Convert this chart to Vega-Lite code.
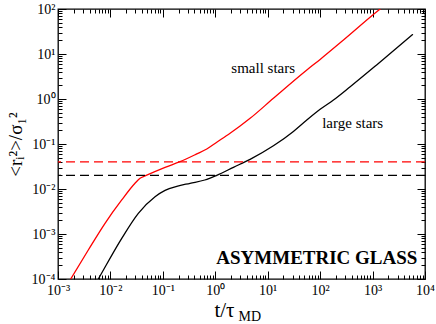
{
  "$schema": "https://vega.github.io/schema/vega-lite/v6.json",
  "width": 367,
  "height": 270,
  "autosize": {"type": "none"},
  "padding": {"left": 58, "top": 9, "right": 11, "bottom": 45},
  "background": "white",
  "config": {
    "view": {"stroke": "#000000", "strokeWidth": 1.3},
    "font": "Liberation Serif, serif",
    "axis": {
      "grid": false,
      "domain": false,
      "tickColor": "#000000",
      "tickWidth": 1,
      "labelColor": "#000000",
      "titleColor": "#000000",
      "labelFont": "Liberation Serif, serif",
      "titleFont": "Liberation Serif, serif",
      "labelFontSize": 14,
      "titleFontWeight": "normal",
      "labelOverlap": false,
      "labelFlush": false
    }
  },
  "datasets": {
    "curves": [
      {"series": "small stars", "t": 0.001413, "msd": 0.0000661},
      {"series": "small stars", "t": 0.001746, "msd": 0.0001},
      {"series": "small stars", "t": 0.003784, "msd": 0.0004406},
      {"series": "small stars", "t": 0.007889, "msd": 0.00173},
      {"series": "small stars", "t": 0.01644, "msd": 0.005702},
      {"series": "small stars", "t": 0.02944, "msd": 0.0134},
      {"series": "small stars", "t": 0.03673, "msd": 0.01726},
      {"series": "small stars", "t": 0.04571, "msd": 0.0195},
      {"series": "small stars", "t": 0.1102, "msd": 0.03034},
      {"series": "small stars", "t": 0.2128, "msd": 0.04046},
      {"series": "small stars", "t": 0.4436, "msd": 0.06026},
      {"series": "small stars", "t": 0.6887, "msd": 0.07762},
      {"series": "small stars", "t": 1.067, "msd": 0.1096},
      {"series": "small stars", "t": 1.914, "msd": 0.1738},
      {"series": "small stars", "t": 2.972, "msd": 0.2512},
      {"series": "small stars", "t": 4.613, "msd": 0.3715},
      {"series": "small stars", "t": 12.85, "msd": 1.038},
      {"series": "small stars", "t": 55.72, "msd": 4.406},
      {"series": "small stars", "t": 100, "msd": 7.586},
      {"series": "small stars", "t": 278.6, "msd": 20.46},
      {"series": "small stars", "t": 1396, "msd": 100},
      {"series": "small stars", "t": 1585, "msd": 112.2},
      {"series": "large stars", "t": 0.005012, "msd": 0.0000724},
      {"series": "large stars", "t": 0.005875, "msd": 0.0001},
      {"series": "large stars", "t": 0.01644, "msd": 0.0008017},
      {"series": "large stars", "t": 0.03404, "msd": 0.002884},
      {"series": "large stars", "t": 0.07096, "msd": 0.006745},
      {"series": "large stars", "t": 0.1102, "msd": 0.009333},
      {"series": "large stars", "t": 0.1841, "msd": 0.01148},
      {"series": "large stars", "t": 0.3304, "msd": 0.0134},
      {"series": "large stars", "t": 0.631, "msd": 0.01585},
      {"series": "large stars", "t": 1.067, "msd": 0.02018},
      {"series": "large stars", "t": 2.218, "msd": 0.03034},
      {"series": "large stars", "t": 4.613, "msd": 0.04571},
      {"series": "large stars", "t": 12.85, "msd": 0.0912},
      {"series": "large stars", "t": 30.9, "msd": 0.1905},
      {"series": "large stars", "t": 55.72, "msd": 0.3412},
      {"series": "large stars", "t": 100, "msd": 0.5902},
      {"series": "large stars", "t": 179.5, "msd": 0.9506},
      {"series": "large stars", "t": 374.1, "msd": 1.875},
      {"series": "large stars", "t": 1259, "msd": 6.026},
      {"series": "large stars", "t": 5875, "msd": 27.42}
    ],
    "labels": [
      {"t": 8.2, "msd": 4.9, "label": "small stars"},
      {"t": 417, "msd": 0.293, "label": "large stars"}
    ],
    "header": [
      {"t": 86.5, "msd": 0.000293, "label": "ASYMMETRIC GLASS"}
    ],
    "plateaus": [
      {"series": "small stars", "msd": 0.04},
      {"series": "large stars", "msd": 0.02}
    ]
  },
  "layer": [
    {
      "data": {"name": "curves"},
      "transform": [{"filter": "datum.series === 'small stars'"}],
      "mark": {"type": "line", "color": "#ff0000", "strokeWidth": 1.3, "clip": true, "interpolate": "monotone"},
      "encoding": {
        "x": {
          "field": "t", "type": "quantitative",
          "scale": {"type": "log", "domain": [0.001, 10000], "nice": false},
          "axis": {
            "orient": "bottom",
            "values": [0.001, 0.01, 0.1, 1, 10, 100, 1000, 10000],
            "tickSize": -8,
            "labelPadding": 12,
            "labelExpr": "'10' + replace(replace(replace(replace(replace(replace(replace('' + round(log(datum.value)/LN10), '-', '⁻'), '0', '⁰'), '1', '¹'), '2', '²'), '3', '³'), '4', '⁴'), '5', '⁵')",
            "title": "t/τ",
            "titleFontSize": 21,
            "titleX": 166,
            "titleY": 37,
            "titleAlign": "center",
            "titleBaseline": "alphabetic"
          }
        },
        "y": {
          "field": "msd", "type": "quantitative",
          "scale": {"type": "log", "domain": [0.0001, 100], "nice": false},
          "axis": {
            "orient": "left",
            "values": [0.0001, 0.001, 0.01, 0.1, 1, 10, 100],
            "tickSize": -8,
            "labelPadding": 11,
            "labelExpr": "'10' + replace(replace(replace(replace(replace(replace(replace('' + round(log(datum.value)/LN10), '-', '⁻'), '0', '⁰'), '1', '¹'), '2', '²'), '3', '³'), '4', '⁴'), '5', '⁵')",
            "title": "<rᵢ²>/σ₁²",
            "titleFontSize": 19,
            "titlePadding": 6
          }
        }
      }
    },
    {
      "data": {"name": "curves"},
      "transform": [{"filter": "datum.series === 'large stars'"}],
      "mark": {"type": "line", "color": "#000000", "strokeWidth": 1.3, "clip": true, "interpolate": "monotone"},
      "encoding": {
        "x": {
          "field": "t", "type": "quantitative",
          "scale": {"type": "log", "domain": [0.001, 10000], "nice": false},
          "axis": {
            "orient": "top",
            "values": [0.001, 0.01, 0.1, 1, 10, 100, 1000, 10000],
            "tickSize": -8,
            "labels": false,
            "title": null
          }
        },
        "y": {
          "field": "msd", "type": "quantitative",
          "scale": {"type": "log", "domain": [0.0001, 100], "nice": false},
          "axis": {
            "orient": "right",
            "values": [0.0001, 0.001, 0.01, 0.1, 1, 10, 100],
            "tickSize": -8,
            "labels": false,
            "title": null
          }
        }
      }
    },
    {
      "data": {"name": "labels"},
      "mark": {"type": "text", "font": "Liberation Serif, serif", "fontSize": 15, "color": "#000000", "align": "center", "baseline": "middle"},
      "encoding": {
        "text": {"field": "label"},
        "x": {
          "field": "t", "type": "quantitative",
          "scale": {"type": "log", "domain": [0.001, 10000], "nice": false},
          "axis": {
            "orient": "bottom",
            "values": [0.002, 0.003, 0.004, 0.005, 0.006, 0.007, 0.008, 0.009, 0.02, 0.03, 0.04, 0.05, 0.06, 0.07, 0.08, 0.09, 0.2, 0.3, 0.4, 0.5, 0.6, 0.7, 0.8, 0.9, 2, 3, 4, 5, 6, 7, 8, 9, 20, 30, 40, 50, 60, 70, 80, 90, 200, 300, 400, 500, 600, 700, 800, 900, 2000, 3000, 4000, 5000, 6000, 7000, 8000, 9000],
            "tickSize": -4,
            "labels": false,
            "title": "MD",
            "titleFontSize": 14,
            "titleX": 180,
            "titleY": 41,
            "titleAlign": "left",
            "titleBaseline": "alphabetic"
          }
        },
        "y": {
          "field": "msd", "type": "quantitative",
          "scale": {"type": "log", "domain": [0.0001, 100], "nice": false},
          "axis": {
            "orient": "left",
            "values": [0.0002, 0.0003, 0.0004, 0.0005, 0.0006, 0.0007, 0.0008, 0.0009, 0.002, 0.003, 0.004, 0.005, 0.006, 0.007, 0.008, 0.009, 0.02, 0.03, 0.04, 0.05, 0.06, 0.07, 0.08, 0.09, 0.2, 0.3, 0.4, 0.5, 0.6, 0.7, 0.8, 0.9, 2, 3, 4, 5, 6, 7, 8, 9, 20, 30, 40, 50, 60, 70, 80, 90],
            "tickSize": -4,
            "labels": false,
            "title": null
          }
        }
      }
    },
    {
      "data": {"name": "header"},
      "mark": {"type": "text", "font": "Liberation Serif, serif", "fontSize": 19, "fontWeight": "bold", "color": "#000000", "align": "center", "baseline": "middle"},
      "encoding": {
        "text": {"field": "label"},
        "x": {
          "field": "t", "type": "quantitative",
          "scale": {"type": "log", "domain": [0.001, 10000], "nice": false},
          "axis": {
            "orient": "top",
            "values": [0.002, 0.003, 0.004, 0.005, 0.006, 0.007, 0.008, 0.009, 0.02, 0.03, 0.04, 0.05, 0.06, 0.07, 0.08, 0.09, 0.2, 0.3, 0.4, 0.5, 0.6, 0.7, 0.8, 0.9, 2, 3, 4, 5, 6, 7, 8, 9, 20, 30, 40, 50, 60, 70, 80, 90, 200, 300, 400, 500, 600, 700, 800, 900, 2000, 3000, 4000, 5000, 6000, 7000, 8000, 9000],
            "tickSize": -4,
            "labels": false,
            "title": null
          }
        },
        "y": {
          "field": "msd", "type": "quantitative",
          "scale": {"type": "log", "domain": [0.0001, 100], "nice": false},
          "axis": {
            "orient": "right",
            "values": [0.0002, 0.0003, 0.0004, 0.0005, 0.0006, 0.0007, 0.0008, 0.0009, 0.002, 0.003, 0.004, 0.005, 0.006, 0.007, 0.008, 0.009, 0.02, 0.03, 0.04, 0.05, 0.06, 0.07, 0.08, 0.09, 0.2, 0.3, 0.4, 0.5, 0.6, 0.7, 0.8, 0.9, 2, 3, 4, 5, 6, 7, 8, 9, 20, 30, 40, 50, 60, 70, 80, 90],
            "tickSize": -4,
            "labels": false,
            "title": null
          }
        }
      }
    },
    {
      "data": {"name": "plateaus"},
      "mark": {"type": "rule", "strokeDash": [9, 5], "strokeWidth": 1.3},
      "encoding": {
        "y": {
          "field": "msd", "type": "quantitative",
          "scale": {"type": "log", "domain": [0.0001, 100], "nice": false},
          "axis": null
        },
        "color": {
          "field": "series", "type": "nominal",
          "scale": {"domain": ["small stars", "large stars"], "range": ["#ff0000", "#000000"]},
          "legend": null
        }
      }
    }
  ],
  "resolve": {"axis": {"x": "independent", "y": "independent"}}
}
